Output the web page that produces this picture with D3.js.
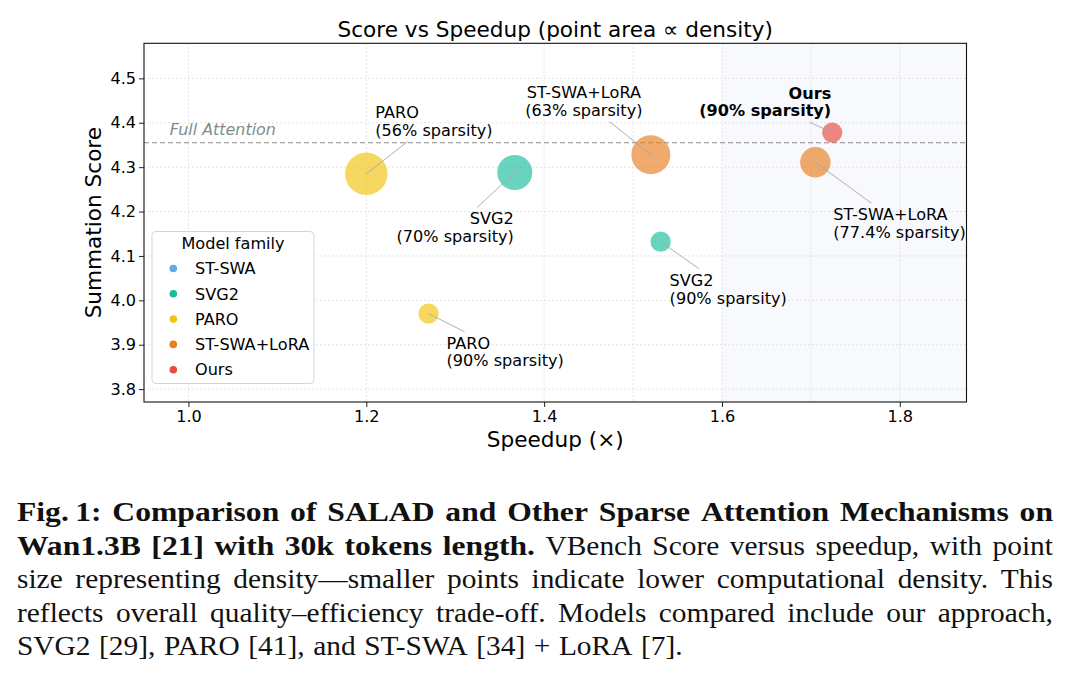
<!DOCTYPE html>
<html>
<head>
<meta charset="utf-8">
<script src="https://cdn.jsdelivr.net/npm/d3@7"></script>
<style>
  body { margin: 0; background: #fff; }
  svg { display: block; }
</style>
</head>
<body>
<script>
// ---- data ----
var pointFamilies = ["PARO", "SVG2", "ST-SWA+LoRA", "Ours", "ST-SWA+LoRA", "SVG2", "PARO"];
var speedups      = [1.200, 1.367, 1.520, 1.724, 1.705, 1.531, 1.270];
var scores        = [4.285, 4.288, 4.328, 4.378, 4.311, 4.132, 3.970];
var sparsities    = [56, 70, 63, 90, 77.4, 90, 90];   // % -> density = 1 - sparsity

var legendFamilies = ["ST-SWA", "SVG2", "PARO", "ST-SWA+LoRA", "Ours"];
var familyColors   = ["#5DADE2", "#1ABC9C", "#F1C40F", "#E67E22", "#E74C3C"];

var xTicks = [1.0, 1.2, 1.4, 1.6, 1.8];
var xGrid  = [1.0, 1.2, 1.4, 1.5, 1.6, 1.7, 1.8];
var yTicks = [3.8, 3.9, 4.0, 4.1, 4.2, 4.3, 4.4, 4.5];
var fullAttentionScore = 4.355;
var fastRegionStart = 1.6;

// annotation placement (offset from the point, in px) - layout only
var labelLayout = [
  {dx: 9,   dy: -56, anchor: "start"},
  {dx: -1,  dy: 52,  anchor: "end"},
  {dx: -67, dy: -57, anchor: "middle"},
  {dx: -1,  dy: -34, anchor: "end", bold: true},
  {dx: 18,  dy: 58,  anchor: "start"},
  {dx: 9,   dy: 44,  anchor: "start"},
  {dx: 18,  dy: 35,  anchor: "start"}
];

var W = 1068, H = 675;
var FS = 16.1;     // base font size used by matplotlib texts
var svg = d3.select("body").append("svg")
  .attr("width", W).attr("height", H)
  .style("font-family", "'DejaVu Sans', sans-serif");

svg.append("rect").attr("width", W).attr("height", H).attr("fill", "#fff");

var plot = {left: 144, right: 966.5, top: 43.3, bottom: 402};

var x = d3.scaleLinear().domain([0.95, 1.875]).range([plot.left, plot.right]);
var y = d3.scaleLinear().domain([3.771, 4.579]).range([plot.bottom, plot.top]);
var r = d3.scaleSqrt().domain([0, 1]).range([0, 32]);
var color = d3.scaleOrdinal().domain(legendFamilies).range(familyColors);

// shaded "fast" region
svg.append("rect")
  .attr("x", x(fastRegionStart)).attr("y", plot.top)
  .attr("width", plot.right - x(fastRegionStart))
  .attr("height", plot.bottom - plot.top)
  .attr("fill", "#f8f9fd");

// grid
svg.append("g").selectAll("line").data(xGrid).join("line")
  .attr("x1", d => x(d)).attr("x2", d => x(d))
  .attr("y1", plot.top).attr("y2", plot.bottom)
  .attr("stroke", "#dcdcdc").attr("stroke-width", 0.8).attr("stroke-dasharray", "2,2");
svg.append("g").selectAll("line").data(yTicks).join("line")
  .attr("x1", plot.left).attr("x2", plot.right)
  .attr("y1", d => y(d)).attr("y2", d => y(d))
  .attr("stroke", "#dcdcdc").attr("stroke-width", 0.8).attr("stroke-dasharray", "2,2");

// full attention reference
svg.append("line")
  .attr("x1", plot.left).attr("x2", plot.right)
  .attr("y1", y(fullAttentionScore)).attr("y2", y(fullAttentionScore))
  .attr("stroke", "#8a8a8a").attr("stroke-width", 1.1).attr("stroke-dasharray", "5,3");
svg.append("text")
  .attr("x", x(0.979)).attr("y", y(fullAttentionScore) - 8)
  .attr("font-size", 15.9).attr("font-style", "italic").attr("fill", "#7f8c8d")
  .text("Full Attention");

// points
var pts = speedups.map(function (s, i) {
  return {x: s, y: scores[i], fam: pointFamilies[i], sp: sparsities[i], lay: labelLayout[i]};
});
svg.append("g").selectAll("circle").data(pts).join("circle")
  .attr("cx", d => x(d.x)).attr("cy", d => y(d.y))
  .attr("r", d => r(1 - d.sp / 100))
  .attr("fill", d => color(d.fam))
  .attr("fill-opacity", 0.66);

// annotations
var annG = svg.append("g");
pts.forEach(function (d) {
  var px = x(d.x), py = y(d.y);
  var t = annG.append("text")
    .attr("font-size", FS)
    .attr("font-weight", d.lay.bold ? "bold" : "normal")
    .attr("text-anchor", d.lay.anchor)
    .attr("fill", "#000");
  var lines = [d.fam, "(" + d.sp + "% sparsity)"];
  lines.forEach(function (s, k) {
    t.append("tspan").attr("x", px + d.lay.dx).attr("y", py + d.lay.dy + k * 17.8).text(s);
  });
  var bb = t.node().getBBox();
  var pad = 2;
  var cx = bb.x + bb.width / 2, cy = bb.y + bb.height / 2;
  var hw = bb.width / 2 + pad, hh = bb.height / 2 + pad;
  var vx = px - cx, vy = py - cy;
  var tt = Math.min(vx ? hw / Math.abs(vx) : Infinity, vy ? hh / Math.abs(vy) : Infinity);
  if (tt < 1) {
    annG.insert("line", "text")
      .attr("x1", cx + vx * tt).attr("y1", cy + vy * tt)
      .attr("x2", px).attr("y2", py)
      .attr("stroke", "#a6a6a6").attr("stroke-width", 0.9);
  }
});

// axes
var xAxis = svg.append("g").attr("transform", "translate(0," + plot.bottom + ")")
  .call(d3.axisBottom(x).tickValues(xTicks).tickFormat(d3.format(".1f")).tickSize(5).tickPadding(4));
var yAxis = svg.append("g").attr("transform", "translate(" + plot.left + ",0)")
  .call(d3.axisLeft(y).tickValues(yTicks).tickFormat(d3.format(".1f")).tickSize(5).tickPadding(3));
[xAxis, yAxis].forEach(function (a) {
  a.select(".domain").remove();
  a.selectAll("text").attr("font-size", FS).attr("font-family", "'DejaVu Sans', sans-serif").attr("fill", "#000");
  a.selectAll("line").attr("stroke", "#222");
});

svg.append("rect")
  .attr("x", plot.left).attr("y", plot.top)
  .attr("width", plot.right - plot.left).attr("height", plot.bottom - plot.top)
  .attr("fill", "none").attr("stroke", "#111").attr("stroke-width", 1.1);

// titles
svg.append("text").attr("x", (plot.left + plot.right) / 2).attr("y", 37)
  .attr("text-anchor", "middle").attr("font-size", 21.6)
  .text("Score vs Speedup (point area \u221D density)");
svg.append("text").attr("x", (plot.left + plot.right) / 2).attr("y", 447)
  .attr("text-anchor", "middle").attr("font-size", 21.6)
  .text("Speedup (\u00D7)");
svg.append("text")
  .attr("transform", "translate(101," + ((plot.top + plot.bottom) / 2) + ") rotate(-90)")
  .attr("text-anchor", "middle").attr("font-size", 21.6)
  .text("Summation Score");

// legend
var lg = svg.append("g").attr("transform", "translate(152,231.5)");
lg.append("rect").attr("width", 162).attr("height", 152).attr("rx", 4)
  .attr("fill", "#fff").attr("fill-opacity", 0.85)
  .attr("stroke", "#d4d4d4").attr("stroke-width", 1);
lg.append("text").attr("x", 81).attr("y", 17).attr("text-anchor", "middle")
  .attr("font-size", FS).text("Model family");
var items = lg.selectAll("g.item").data(legendFamilies).join("g")
  .attr("class", "item")
  .attr("transform", (d, i) => "translate(0," + (37 + i * 25.3) + ")");
items.append("circle").attr("cx", 21.3).attr("cy", 0).attr("r", 3.8).attr("fill", d => color(d));
items.append("text").attr("x", 43).attr("y", 5.7).attr("font-size", FS).text(d => d);

// caption (justified, serif; glyphs widened to mimic Computer Modern)
var captionLines = [
  {bold: "Fig.\u20091: Comparison of SALAD and Other Sparse Attention Mechanisms on", normal: "", justify: true},
  {bold: "Wan1.3B [21] with 30k tokens length.", normal: "VBench Score versus speedup, with point", justify: true},
  {bold: "", normal: "size representing density\u2014smaller points indicate lower computational density. This", justify: true},
  {bold: "", normal: "reflects overall quality\u2013efficiency trade-off. Models compared include our approach,", justify: true},
  {bold: "", normal: "SVG2 [29], PARO [41], and ST-SWA [34] + LoRA [7].", justify: false}
];
var capLeft = 17, capRight = 1053, capTop = 521, capLead = 33.6;
var stretchBold = 1.15, stretchNormal = 1.07;
var capG = svg.append("g").style("font-family", "'Liberation Serif', 'DejaVu Serif', serif").attr("fill", "#111");
captionLines.forEach(function (ln, li) {
  var words = [];
  if (ln.bold) ln.bold.split(" ").forEach(w => words.push({w: w, b: true}));
  if (ln.normal) ln.normal.split(" ").forEach(w => words.push({w: w, b: false}));
  var by = capTop + li * capLead;
  var nodes = words.map(function (wd) {
    var t = capG.append("text").attr("font-size", 27.5)
      .attr("font-weight", wd.b ? "bold" : "normal").text(wd.w);
    var sx = wd.b ? stretchBold : stretchNormal;
    return {t: t, sx: sx, len: t.node().getComputedTextLength() * sx};
  });
  var total = d3.sum(nodes, n => n.len);
  var gap = ln.justify ? (capRight - capLeft - total) / (nodes.length - 1) : 8.5;
  var cx = capLeft;
  nodes.forEach(function (n) {
    n.t.attr("transform", "translate(" + cx + "," + by + ") scale(" + n.sx + ",1)");
    cx += n.len + gap;
  });
});
</script>
</body>
</html>
